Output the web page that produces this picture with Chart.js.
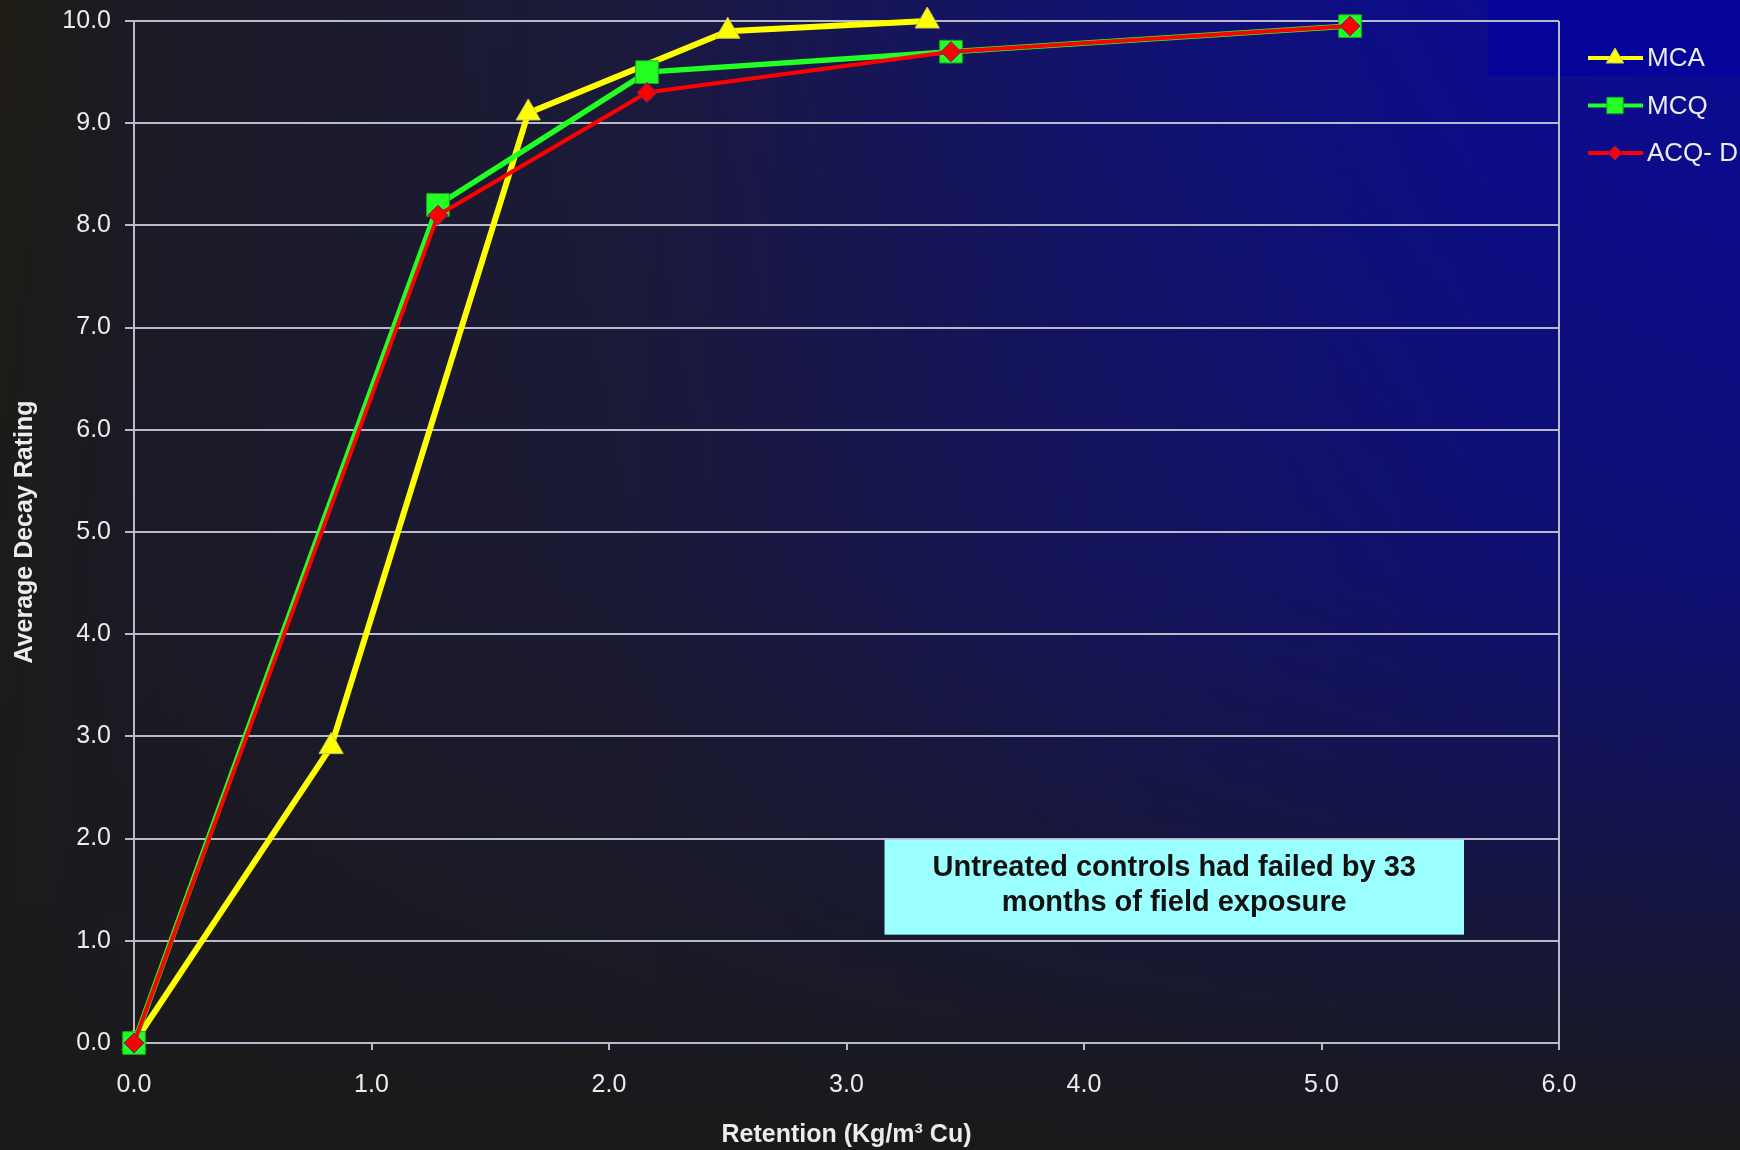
<!DOCTYPE html>
<html>
<head>
<meta charset="utf-8">
<script src="https://cdn.jsdelivr.net/npm/chart.js@4"></script>
<style>
  html, body { margin: 0; padding: 0; }
  body {
    width: 1740px; height: 1150px; overflow: hidden; position: relative;
    background:
      linear-gradient(to bottom, rgba(26,26,26,0) 0%, rgba(26,24,40,0.3) 50%, rgba(26,26,30,0.8) 85%, rgba(26,26,26,1) 100%),
      linear-gradient(to right, #1e1c14 0%, #1c1a24 8%, #1b1a3a 35%, #12126e 62%, #0c0c8e 85%, #0a0a96 100%);
  }
  #corner { position: absolute; left: 1488px; top: 0; width: 252px; height: 76px; background: #02029c; opacity: 0.8; }
  #wrap { position: absolute; left: 0; top: 0; width: 1740px; height: 1150px; }
</style>
</head>
<body>
<div id="corner"></div>
<div id="wrap"><canvas id="chart" width="1740" height="1150"></canvas></div>
<script>
// Retention (Kg/m3 Cu) vs average decay rating
const mcaX = [0, 0.83, 1.66, 2.5, 3.34];
const mcaY = [0, 2.9, 9.1, 9.9, 10.0];
const mcqX = [0, 1.28, 2.16, 3.44, 5.12];
const mcqY = [0, 8.2, 9.5, 9.7, 9.95];
const acqX = [0, 1.28, 2.16, 3.44, 5.12];
const acqY = [0, 8.1, 9.3, 9.7, 9.95];

const xTicks = [0, 1, 2, 3, 4, 5, 6];
const yTicks = [0, 1, 2, 3, 4, 5, 6, 7, 8, 9, 10];

const noteLines = ['Untreated controls had failed by 33', 'months of field exposure'];

const GRID = '#b9b9cc';
const TEXT = '#ececec';
const FONT = '"Liberation Sans", Arial, sans-serif';

const toPoints = (xs, ys) => xs.map((x, i) => ({ x: x, y: ys[i] }));

const series = [
    { label: 'MCA', xs: mcaX, ys: mcaY, color: '#ffff00', width: 6, style: 'triangle', radius: 14, border: '#c8c860', order: 3 },
    { label: 'MCQ', xs: mcqX, ys: mcqY, color: '#22ff22', width: 5.5, style: 'rect', radius: 16, border: '#12b020', order: 2 },
    { label: 'ACQ- D', xs: acqX, ys: acqY, color: '#ff0000', width: 4, style: 'rectRot', radius: 10, border: '#5a2a7a', order: 1 }
];

// note box + legend, drawn after the datasets
const extras = {
    id: 'extras',
    afterDatasetsDraw(chart) {
        const ctx = chart.ctx;
        const xs = chart.scales.x, ys = chart.scales.y;
        // annotation box
        const l = xs.getPixelForValue(3.16), r = xs.getPixelForValue(5.6);
        const t = ys.getPixelForValue(1.99), b = ys.getPixelForValue(1.06);
        ctx.save();
        ctx.fillStyle = '#9bffff';
        ctx.fillRect(l, t, r - l, b - t);
        ctx.fillStyle = '#111111';
        ctx.font = 'bold 29px ' + FONT;
        ctx.textAlign = 'center';
        ctx.textBaseline = 'middle';
        const cx = (l + r) / 2;
        ctx.fillText(noteLines[0], cx, t + 28);
        ctx.fillText(noteLines[1], cx, t + 63);
        ctx.restore();

        // legend
        ctx.save();
        series.forEach((s, i) => {
            const y = 58 + i * 47.5;
            ctx.strokeStyle = s.color;
            ctx.lineWidth = 4;
            ctx.beginPath();
            ctx.moveTo(1588, y);
            ctx.lineTo(1643, y);
            ctx.stroke();
            ctx.fillStyle = s.color;
            ctx.strokeStyle = s.border;
            ctx.lineWidth = 1;
            Chart.helpers.drawPoint(ctx, { pointStyle: s.style, radius: s.radius * 0.72, rotation: 0, borderWidth: 1 }, 1615, y);
            ctx.fillStyle = TEXT;
            ctx.font = '26px ' + FONT;
            ctx.textAlign = 'left';
            ctx.textBaseline = 'middle';
            ctx.fillText(s.label, 1647, y + 1);
        });
        ctx.restore();
    }
};

new Chart(document.getElementById('chart'), {
    type: 'scatter',
    data: {
        datasets: series.map(s => ({
            label: s.label,
            data: toPoints(s.xs, s.ys),
            showLine: true,
            clip: false,
            borderColor: s.color,
            borderWidth: s.width,
            backgroundColor: s.color,
            pointStyle: s.style,
            pointRadius: s.radius,
            pointBorderColor: s.border,
            pointBorderWidth: 1,
            order: s.order
        }))
    },
    options: {
        responsive: false,
        animation: false,
        layout: { padding: { left: 0, top: 21, right: 181, bottom: 0 } },
        plugins: { legend: { display: false }, tooltip: { enabled: false } },
        scales: {
            x: {
                type: 'linear', min: 0, max: 6,
                afterFit: s => { s.height = 107; s.paddingLeft = 0; s.paddingRight = 0; },
                afterBuildTicks: s => { s.ticks = xTicks.map(v => ({ value: v })); },
                ticks: { color: TEXT, font: { family: FONT, size: 25 }, padding: 20, callback: v => v.toFixed(1), maxRotation: 0 },
                grid: {
                    drawOnChartArea: true,
                    color: c => (c.tick && c.tick.value === 6) ? GRID : 'rgba(0,0,0,0)',
                    tickColor: GRID, tickLength: 7, lineWidth: 2
                },
                border: { color: GRID, width: 2 },
                title: { display: true, text: 'Retention (Kg/m³ Cu)', color: TEXT, font: { family: FONT, size: 25, weight: 'bold' }, padding: { top: 0, bottom: 0 } }
            },
            y: {
                type: 'linear', min: 0, max: 10,
                afterFit: s => { s.width = 134; s.paddingTop = 0; s.paddingBottom = 0; },
                afterBuildTicks: s => { s.ticks = yTicks.map(v => ({ value: v })); },
                ticks: { color: TEXT, font: { family: FONT, size: 25 }, padding: 14, callback: v => v.toFixed(1) },
                grid: { color: GRID, tickColor: GRID, tickLength: 9, lineWidth: 2 },
                border: { color: GRID, width: 2 },
                title: { display: true, text: 'Average Decay Rating', color: TEXT, font: { family: FONT, size: 25, weight: 'bold' }, padding: { top: 10, bottom: 0 } }
            }
        }
    },
    plugins: [extras]
});
</script>
</body>
</html>
